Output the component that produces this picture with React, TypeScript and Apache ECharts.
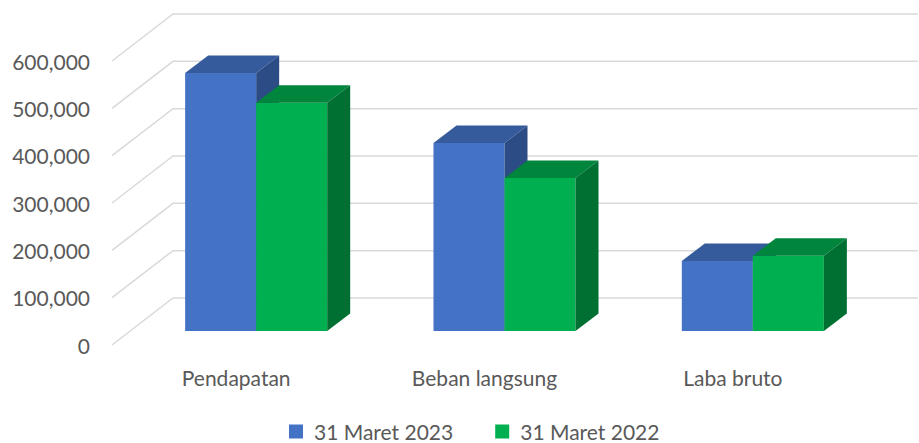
import React, { useEffect, useRef } from "react";
import * as echarts from "echarts";

const categories = ["Pendapatan", "Beban langsung", "Laba bruto"];
const seriesNames = ["31 Maret 2023", "31 Maret 2022"];
const values2023 = [545000, 397000, 148000];
const values2022 = [482000, 323000, 159000];
const yTicks = [0, 100000, 200000, 300000, 400000, 500000, 600000];

// projection constants (pixels)
const WALL_DX = 61;
const WALL_DY = 47;
const FX = 20;
const FY = -14;
const DX = 23;
const DY = 17.5;
const BAR_FRAC = 0.286;

const FONT = "Lato";
const FONT_SIZE = 21;
const TEXT_COLOR = "#595959";

function makeBar(s: number, front: string, top: string, side: string) {
  return (params: any, api: any) => {
    const cat = api.value(0);
    const val = api.value(1);
    const p = api.coord([cat, val]);
    const p0 = api.coord([cat, 0]);
    const band = api.size([1, 0])[0];
    const w = band * BAR_FRAC;
    const x1 = p[0] - w + s * w + FX;
    const x2 = x1 + w;
    const yt = p[1] + FY;
    const yb = p0[1] + FY;
    return {
      type: "group",
      children: [
        { type: "rect", shape: { x: x1, y: yt, width: w, height: yb - yt }, style: { fill: front } },
        {
          type: "polygon",
          shape: { points: [[x1, yt], [x1 + DX, yt - DY], [x2 + DX, yt - DY], [x2, yt]] },
          style: { fill: top },
        },
        {
          type: "polygon",
          shape: { points: [[x2, yt], [x2 + DX, yt - DY], [x2 + DX, yb - DY], [x2, yb]] },
          style: { fill: side },
        },
      ],
    };
  };
}

export default function App() {
  const ref = useRef<HTMLDivElement>(null);
  useEffect(() => {
    if (!ref.current) return;
    const chart = echarts.init(ref.current, undefined, { renderer: "svg" });
    chart.setOption({
      animation: false,
      backgroundColor: "#ffffff",
      grid: { left: 112, right: 62, top: 61, bottom: 98 },
      legend: {
        left: 289,
        top: 421,
        padding: 0,
        itemWidth: 14,
        itemHeight: 14,
        itemGap: 42,
        icon: "rect",
        data: seriesNames,
        textStyle: {
          fontFamily: FONT,
          fontSize: FONT_SIZE,
          lineHeight: 20,
          color: TEXT_COLOR,
          padding: [0, 0, 0, 6],
        },
      },
      xAxis: {
        type: "category",
        data: categories,
        axisLine: { show: false },
        axisTick: { show: false },
        splitLine: { show: false },
        axisLabel: { fontFamily: FONT, fontSize: FONT_SIZE, color: TEXT_COLOR, margin: 22 },
      },
      yAxis: {
        type: "value",
        min: 0,
        max: 600000,
        interval: 100000,
        axisLine: { show: false },
        axisTick: { show: false },
        splitLine: { show: false },
        axisLabel: {
          fontFamily: FONT,
          fontSize: FONT_SIZE,
          color: TEXT_COLOR,
          margin: 22,
          formatter: (v: number) => v.toLocaleString("en-US"),
        },
      },
      series: [
        {
          type: "custom",
          name: "grid",
          silent: true,
          z: 1,
          clip: false,
          data: yTicks.map((v) => [0, v]),
          encode: { x: 0, y: 1 },
          renderItem: (params: any, api: any) => {
            const cs = params.coordSys;
            const y = api.coord([0, api.value(1)])[1];
            const x0 = cs.x;
            return {
              type: "polyline",
              shape: {
                points: [
                  [x0, y],
                  [x0 + WALL_DX, y - WALL_DY],
                  [x0 + cs.width + WALL_DX, y - WALL_DY],
                ],
              },
              style: { stroke: "#D9D9D9", lineWidth: 1.5, fill: "none" },
            };
          },
        },
        {
          type: "custom",
          name: seriesNames[0],
          z: 2,
          clip: false,
          itemStyle: { color: "#4472C4" },
          data: values2023.map((v, i) => [i, v]),
          encode: { x: 0, y: 1 },
          renderItem: makeBar(0, "#4472C4", "#355B9C", "#2C4C85"),
        },
        {
          type: "custom",
          name: seriesNames[1],
          z: 3,
          clip: false,
          itemStyle: { color: "#00B050" },
          data: values2022.map((v, i) => [i, v]),
          encode: { x: 0, y: 1 },
          renderItem: makeBar(1, "#00B050", "#00853C", "#007032"),
        },
      ],
    });
    return () => chart.dispose();
  }, []);
  return (
    <div
      ref={ref}
      style={{ position: "fixed", left: 0, top: 0, width: 919, height: 443 }}
    />
  );
}
